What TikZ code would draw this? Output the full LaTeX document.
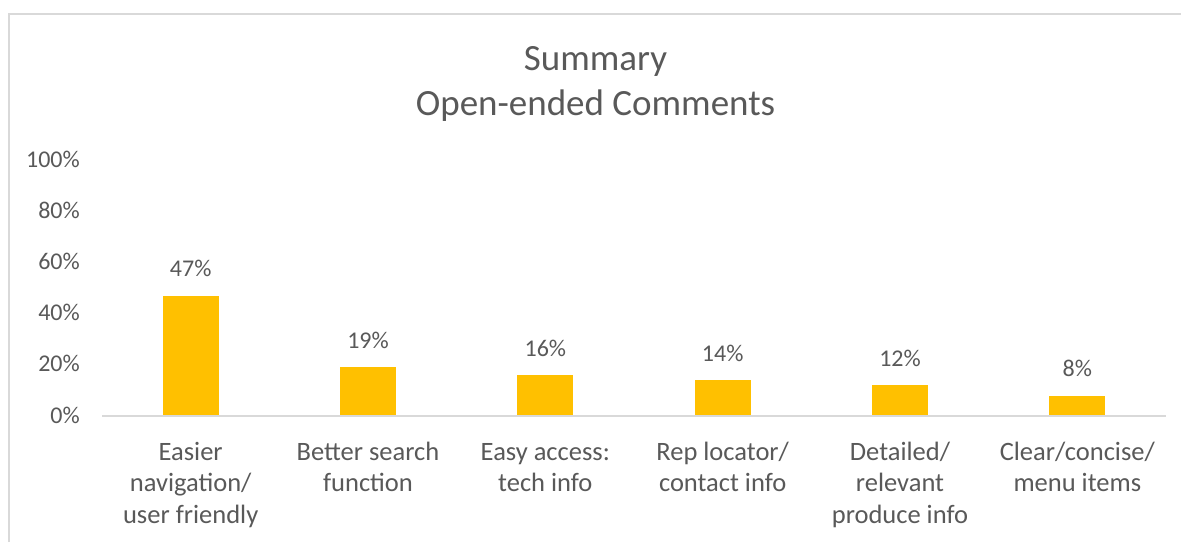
\documentclass[tikz,border=0pt]{standalone}
\usepackage{fontspec}
\setmainfont{Carlito}
\definecolor{bartxt}{HTML}{595959}
\definecolor{barfill}{HTML}{FFC000}
\definecolor{gridc}{HTML}{D9D9D9}
\begin{document}
\begin{tikzpicture}[x=1pt,y=-1pt,
  every node/.style={inner sep=0pt,text=bartxt},
  ticklbl/.style={anchor=base east,font=\fontsize{24}{28}\selectfont},
  vallbl/.style={anchor=base,font=\fontsize{24}{28}\selectfont},
  catlbl/.style={anchor=north,align=center,font=\fontsize{26.5}{31.5}\selectfont},
  ttl/.style={anchor=base,font=\fontsize{37}{44.5}\selectfont},
  barbox/.style={fill=barfill,draw=none},
  frameline/.style={draw=gridc,line width=2pt},
  axisline/.style={draw=gridc,line width=1.5pt}]
\useasboundingbox (0,0) rectangle (1181,542);
\fill[white] (0,0) rectangle (1181,542);
% frame
\coordinate (fb) at (9,542);
\coordinate (fc) at (9,14);
\coordinate (fr) at (1181,14);
\draw[frameline] (fb) -- (fc) -- (fr);
% title
\node[ttl] (t1) at (595.5,70.5) {Summary};
\node[ttl] (t2) at (595.5,115) {Open-ended Comments};
% axis ticks labels
\foreach \v/\n in {0/a,20/b,40/c,60/d,80/e,100/f}{
  \node[ticklbl] (tick\n) at (80,{416-2.56*\v+7}) {\v\%};
}
% axis line
\coordinate (ax0) at (102,416);
\coordinate (ax1) at (1166,416);
\draw[axisline] (ax0) -- (ax1);
% bars
\foreach \i/\v/\lbl in {0/47/{Easier\\navigation/\\user friendly},
                        1/19/{Better search\\function},
                        2/16/{Easy access:\\tech info},
                        3/14/{Rep locator/\\contact info},
                        4/12/{Detailed/\\relevant\\produce info},
                        5/8/{Clear/concise/\\menu items}}{
  \pgfmathsetmacro{\cx}{102+177.33*(\i+0.5)}
  \pgfmathsetmacro{\top}{416-2.56*\v}
  \path[barbox] (\cx-28,415.3) rectangle (\cx+28,\top);
  \node[vallbl] (val\i) at (\cx,\top-19) {\v\%};
  \node[catlbl] (cat\i) at (\cx,440) {\rule{0pt}{20pt}\lbl};
}
\end{tikzpicture}
\end{document}
